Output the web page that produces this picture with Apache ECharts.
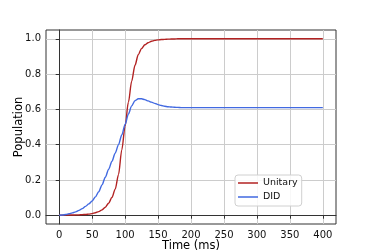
<!DOCTYPE html>
<html>
<head>
<meta charset="utf-8">
<script src="https://cdn.jsdelivr.net/npm/echarts@6/dist/echarts.min.js"></script>
<style>html,body{margin:0;padding:0;background:#fff;}#c{width:374px;height:252px;}</style>
</head>
<body>
<div id="c"></div>
<script>
var times = [0,5,10,15,20,25,30,35,40,45,50,55,60,65,70,75,80,85,90,95,100,105,110,115,120,125,130,135,140,145,150,155,160,165,170,175,180,185,190,195,200,250,300,350,400];
var unitary = [0,0,0.0005,0.001,0.001,0.0015,0.002,0.003,0.004,0.006,0.009,0.014,0.02,0.03,0.045,0.068,0.10,0.148,0.23,0.37,0.505,0.64,0.76,0.85,0.91,0.945,0.966,0.978,0.986,0.991,0.994,0.996,0.997,0.998,0.999,0.999,1,1,1,1,1,1,1,1,1];
var did = [0,0.001,0.004,0.008,0.013,0.019,0.027,0.037,0.05,0.064,0.08,0.104,0.133,0.172,0.215,0.26,0.305,0.352,0.40,0.455,0.515,0.573,0.62,0.649,0.66,0.66,0.655,0.648,0.641,0.634,0.627,0.622,0.618,0.615,0.613,0.612,0.611,0.61,0.61,0.61,0.61,0.61,0.61,0.61,0.61];
var xTicks = [0,50,100,150,200,250,300,350,400];
var yTicks = [0,0.2,0.4,0.6,0.8,1.0];
var seriesNames = ['Unitary','DID'];

function pairs(v){ return times.map(function(t,i){ return [t, v[i]]; }); }

var font = 'DejaVu Sans';
var chart = echarts.init(document.getElementById('c'), null, {renderer:'canvas'});
chart.setOption({
  animation:false,
  backgroundColor:'#fff',
  grid:{left:46,right:38,top:30,bottom:28,outerBoundsMode:'none',containLabel:false,show:true,borderColor:'#333',borderWidth:1,backgroundColor:'transparent'},
  xAxis:{
    type:'value',min:-20,max:420,
    name:'Time (ms)',nameLocation:'middle',nameGap:16,nameMoveOverlap:false,
    nameTextStyle:{fontFamily:font,fontSize:11.5,color:'#000'},
    axisLine:{show:true,lineStyle:{color:'#333',width:1}},
    axisTick:{show:true,length:3.5,lineStyle:{color:'#333'},customValues:xTicks},
    axisLabel:{fontFamily:font,fontSize:10,color:'#111',margin:6,customValues:xTicks},
    splitLine:{show:true,lineStyle:{color:'#cccccc',width:1}}
  },
  yAxis:{
    type:'value',min:-0.05,max:1.05,
    name:'Population',nameLocation:'middle',nameGap:21,nameRotate:90,nameMoveOverlap:false,
    nameTextStyle:{fontFamily:font,fontSize:11.5,color:'#000'},
    axisLine:{show:true,lineStyle:{color:'#333',width:1}},
    axisTick:{show:true,length:3.5,lineStyle:{color:'#333'},customValues:yTicks},
    axisLabel:{fontFamily:font,fontSize:10,color:'#111',margin:5,customValues:yTicks,formatter:function(v){return v.toFixed(1);}},
    splitLine:{show:true,lineStyle:{color:'#cccccc',width:1}}
  },
  legend:{
    orient:'vertical',left:235,top:175,
    data:[{name:seriesNames[0],icon:'rect'},{name:seriesNames[1],icon:'rect'}],
    itemWidth:20,itemHeight:1.5,itemGap:2,
    padding:[2,4,3,3],
    backgroundColor:'rgba(255,255,255,0.85)',borderColor:'#d0d0d0',borderWidth:1,borderRadius:3,
    textStyle:{fontFamily:font,fontSize:9.5,color:'#111',lineHeight:12}
  },
  series:[
    {name:seriesNames[0],type:'line',data:pairs(unitary),smooth:0.3,smoothMonotone:'x',showSymbol:false,
     lineStyle:{color:'#b22222',width:1.4},itemStyle:{color:'#b22222'}},
    {name:seriesNames[1],type:'line',data:pairs(did),smooth:0.3,smoothMonotone:'x',showSymbol:false,
     lineStyle:{color:'#4169e1',width:1.4},itemStyle:{color:'#4169e1'}}
  ]
});
</script>
</body>
</html>
